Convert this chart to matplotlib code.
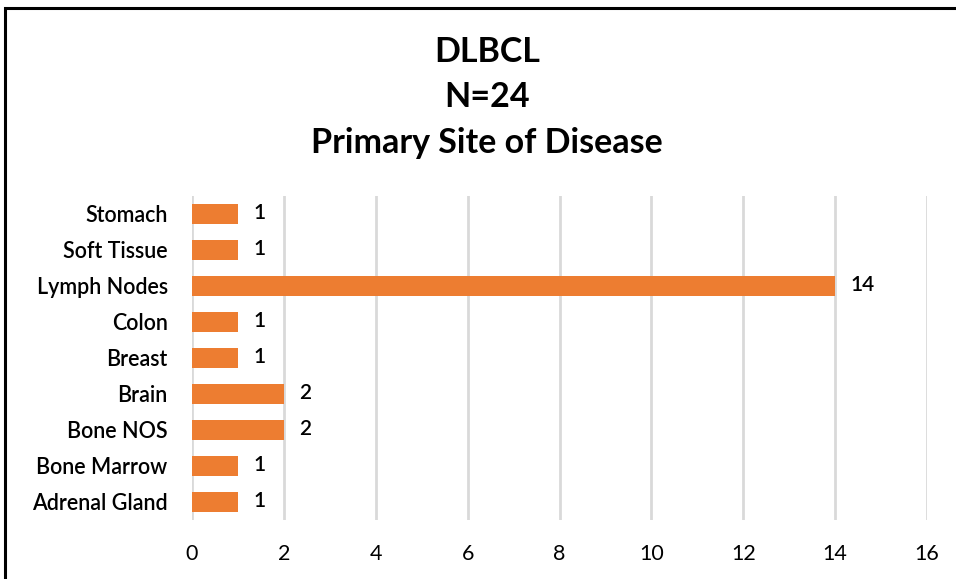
import matplotlib
matplotlib.use("Agg")
import matplotlib.pyplot as plt
from matplotlib.patches import Rectangle

plt.rcParams['font.family'] = ['Lato', 'DejaVu Sans']

# Primary site counts, DLBCL cohort
sites = ["Adrenal Gland", "Bone Marrow", "Bone NOS", "Brain", "Breast",
         "Colon", "Lymph Nodes", "Soft Tissue", "Stomach"]
counts = [1, 1, 2, 2, 1, 1, 14, 1, 1]
xticks = [0, 2, 4, 6, 8, 10, 12, 14, 16]

fig = plt.figure(figsize=(9.56, 5.79), dpi=100)

# outer chart frame (cropped on the right and bottom)
fig.patches.append(Rectangle((5 / 956, -0.05), 1.1, 1.05 - 8 / 579,
                             transform=fig.transFigure, fill=False,
                             edgecolor="black", linewidth=2.2, clip_on=False))

ax = fig.add_axes([192 / 956, 1 - 520 / 579, (927 - 192) / 956, (520 - 196) / 579])
ypos = list(range(len(sites)))
bars = ax.barh(ypos, counts, height=0.56, color="#ed7d31", zorder=3)
for y, v in zip(ypos, counts):
    ax.text(v + 0.33, y + 0.02, str(v), va="center", ha="left",
            fontsize=15, fontweight="semibold", color="black")

ax.set_xlim(0, 16)
ax.set_ylim(-0.5, len(sites) - 0.5)
ax.set_xticks(xticks)
ax.set_yticks(ypos)
ax.set_yticklabels(sites, fontsize=15.5, fontweight="semibold")
ax.tick_params(axis="x", labelsize=15.5, length=0, pad=17)
ax.tick_params(axis="y", length=0, pad=17.5)
ax.grid(axis="x", color="#d9d9d9", linewidth=2, zorder=0)
for s in ax.spines.values():
    s.set_visible(False)

for ypix, line in [(52, "DLBCL"), (97, "N=24"), (143, "Primary Site of Disease")]:
    fig.text(487 / 956, 1 - ypix / 579, line, ha="center", va="center",
             fontsize=24.5, fontweight="bold")

fig.savefig("out.png", dpi=100)
